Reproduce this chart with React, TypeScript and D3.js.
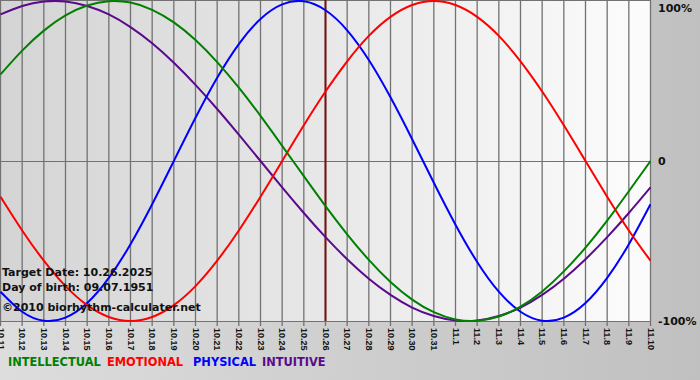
import React from "react";
import * as d3 from "d3";

const dates = [
  "10.11","10.12","10.13","10.14","10.15","10.16","10.17","10.18","10.19","10.20",
  "10.21","10.22","10.23","10.24","10.25","10.26","10.27","10.28","10.29","10.30",
  "10.31","11.1","11.2","11.3","11.4","11.5","11.6","11.7","11.8","11.9","11.10",
];

const physical = [
  -0.817,-0.942,-0.998,-0.979,-0.888,-0.731,-0.520,-0.270,0,0.270,
  0.520,0.731,0.888,0.979,0.998,0.942,0.817,0.631,0.398,0.136,
  -0.136,-0.398,-0.631,-0.817,-0.942,-0.998,-0.979,-0.888,-0.731,-0.520,-0.270,
];
const emotional = [
  -0.223,-0.434,-0.623,-0.782,-0.901,-0.975,-1,-0.975,-0.901,-0.782,
  -0.623,-0.434,-0.223,0,0.223,0.434,0.623,0.782,0.901,0.975,
  1,0.975,0.901,0.782,0.623,0.434,0.223,0,-0.223,-0.434,-0.623,
];
const intellectual = [
  0.541,0.690,0.815,0.910,0.972,0.999,0.990,0.945,0.866,0.756,
  0.618,0.458,0.282,0.095,-0.095,-0.282,-0.458,-0.618,-0.756,-0.866,
  -0.945,-0.990,-0.999,-0.972,-0.910,-0.815,-0.690,-0.541,-0.372,-0.189,0,
];
const intuitive = [
  0.916,0.969,0.997,0.997,0.969,0.916,0.837,0.736,0.614,0.476,
  0.325,0.165,0,-0.165,-0.325,-0.476,-0.614,-0.736,-0.837,-0.916,
  -0.969,-0.997,-0.997,-0.969,-0.916,-0.837,-0.736,-0.614,-0.476,-0.325,-0.165,
];

const targetIndex = 15;
const yTicks = [
  { v: 1, label: "100%" },
  { v: 0, label: "0" },
  { v: -1, label: "-100%" },
];
const legend = [
  { name: "INTELLECTUAL", color: "#008000", x: 8 },
  { name: "EMOTIONAL", color: "#ff0000", x: 107 },
  { name: "PHYSICAL", color: "#0000ff", x: 193 },
  { name: "INTUITIVE", color: "#5a0a8c", x: 262 },
];
const infoLines = [
  { text: "Target Date: 10.26.2025", y: 276 },
  { text: "Day of birth: 09.07.1951", y: 291 },
  { text: "\u00a92010 biorhythm-calculater.net", y: 311 },
];

export default function App() {
  const W = 700, H = 380;
  const left = 0.5, right = 650.5, top = 1, bottom = 321;
  const x = d3.scaleLinear().domain([0, dates.length - 1]).range([left, right]);
  const y = d3.scaleLinear().domain([-1, 1]).range([bottom, top]);
  const line = d3
    .line<number>()
    .x((_, i) => x(i))
    .y((d) => y(d))
    .curve(d3.curveNatural);

  const series = [
    { data: intuitive, color: "#5a0a8c" },
    { data: physical, color: "#0000ff" },
    { data: emotional, color: "#ff0000" },
    { data: intellectual, color: "#008000" },
  ];
  const font = "Verdana, 'DejaVu Sans', sans-serif";

  return (
    <svg
      width={W}
      height={H}
      style={{ position: "absolute", left: 0, top: 0, display: "block" }}
    >
      <defs>
        <linearGradient id="bg" x1="0" x2="1" y1="0" y2="0">
          <stop offset="0" stopColor="#dddddd" />
          <stop offset="0.93" stopColor="#c2c2c2" />
          <stop offset="1" stopColor="#c0c0c0" />
        </linearGradient>
        <linearGradient id="plotbg" x1="0" x2="1" y1="0" y2="0">
          <stop offset="0" stopColor="#d4d4d4" />
          <stop offset="1" stopColor="#fcfcfc" />
        </linearGradient>
        <clipPath id="clip">
          <rect x={0} y={0} width={651} height={322} />
        </clipPath>
      </defs>
      <rect x={0} y={0} width={W} height={H} fill="url(#bg)" />
      <rect x={0} y={0} width={651} height={321} fill="url(#plotbg)" />
      {dates.map((d, i) => (
        <line
          key={"g" + i}
          x1={x(i)}
          x2={x(i)}
          y1={0}
          y2={326}
          stroke="#727272"
          strokeWidth={1.3}
        />
      ))}
      {yTicks.map((t) => (
        <line
          key={"h" + t.v}
          x1={0}
          x2={651}
          y1={Math.round(y(t.v)) + 0.5 - (t.v === 1 ? 1 : 0)}
          y2={Math.round(y(t.v)) + 0.5 - (t.v === 1 ? 1 : 0)}
          stroke="#727272"
          strokeWidth={1}
        />
      ))}
      <line
        x1={x(targetIndex)}
        x2={x(targetIndex)}
        y1={0}
        y2={321}
        stroke="#7a1010"
        strokeWidth={2}
      />
      <g clipPath="url(#clip)">
        {series.map((s, k) => (
          <path
            key={"s" + k}
            d={line(s.data) || ""}
            fill="none"
            stroke={s.color}
            strokeWidth={2}
          />
        ))}
      </g>
      {infoLines.map((l, i) => (
        <text
          key={"i" + i}
          x={2}
          y={l.y}
          fontFamily={font}
          fontWeight="bold"
          fontSize={11}
          fill="#111"
        >
          {l.text}
        </text>
      ))}
      {dates.map((d, i) => (
        <text
          key={"t" + i}
          transform={`translate(${x(i)},328) rotate(90)`}
          dominantBaseline="central"
          fontFamily="'Liberation Sans', Arial, sans-serif"
          fontWeight="bold"
          fontSize={9}
          fill="#111"
        >
          {d}
        </text>
      ))}
      {yTicks.map((t) => (
        <text
          key={"y" + t.v}
          x={658}
          y={y(t.v) + 4}
          fontFamily={font}
          fontWeight="bold"
          fontSize={11}
          fill="#111"
          dy={t.v === 1 ? 7 : 0}
        >
          {t.label}
        </text>
      ))}
      {legend.map((l) => (
        <text
          key={l.name}
          x={l.x}
          y={366}
          fontFamily={font}
          fontWeight="bold"
          fontSize={11.4}
          fill={l.color}
        >
          {l.name}
        </text>
      ))}
    </svg>
  );
}
